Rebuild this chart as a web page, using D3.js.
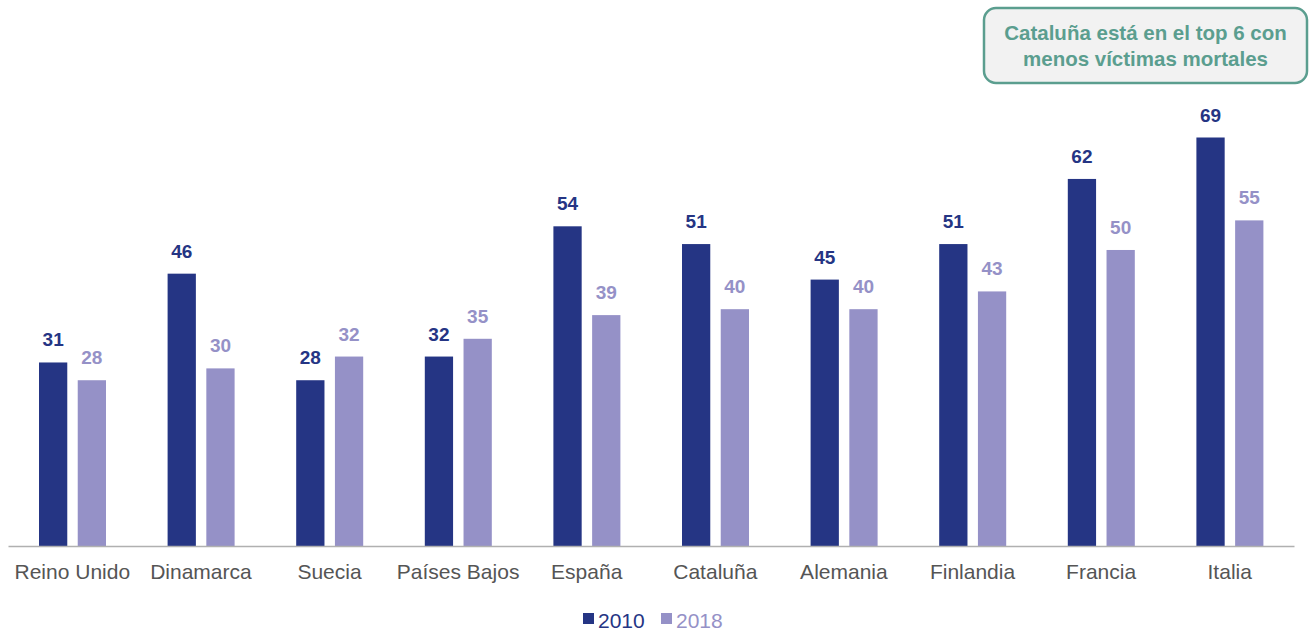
<!DOCTYPE html>
<html>
<head>
<meta charset="utf-8">
<script src="https://d3js.org/d3.v7.min.js"></script>
<style>
  body { margin: 0; background: #fff; }
  svg { font-family: "Liberation Sans", Arial, sans-serif; }
</style>
</head>
<body>
<div id="chart"></div>
<script>
// data
const countries = ["Reino Unido", "Dinamarca", "Suecia", "Países Bajos", "España",
                   "Cataluña", "Alemania", "Finlandia", "Francia", "Italia"];
const years = ["2010", "2018"];
const values2010 = [31, 46, 28, 32, 54, 51, 45, 51, 62, 69];
const values2018 = [28, 30, 32, 35, 39, 40, 40, 43, 50, 55];
const note = ["Cataluña está en el top 6 con", "menos víctimas mortales"];

const width = 1310, height = 632;
const colors = {"2010": "#253584", "2018": "#9591c7"};
const baseY = 546;

const svg = d3.select("#chart").append("svg")
    .attr("width", width)
    .attr("height", height);

const x = d3.scaleBand()
    .domain(countries)
    .range([8, 1294])
    .paddingInner(0)
    .paddingOuter(0);

const xSub = d3.scaleBand()
    .domain(years)
    .range([31, 98])
    .paddingInner(0.27);

const y = d3.scaleLinear()
    .domain([0, 69])
    .range([baseY, 137.5]);

const rows = countries.map((c, i) => ({country: c, "2010": values2010[i], "2018": values2018[i]}));

const groups = svg.selectAll("g.grp")
    .data(rows)
    .enter().append("g")
    .attr("class", "grp")
    .attr("transform", d => "translate(" + x(d.country) + ",0)");

groups.selectAll("rect")
    .data(d => years.map(k => ({key: k, value: d[k]})))
    .enter().append("rect")
    .attr("x", d => xSub(d.key))
    .attr("y", d => y(d.value))
    .attr("width", xSub.bandwidth())
    .attr("height", d => baseY - y(d.value))
    .attr("fill", d => colors[d.key]);

groups.selectAll("text.val")
    .data(d => years.map(k => ({key: k, value: d[k]})))
    .enter().append("text")
    .attr("class", "val")
    .attr("x", d => xSub(d.key) + xSub.bandwidth() / 2)
    .attr("y", d => y(d.value) - 16)
    .attr("text-anchor", "middle")
    .attr("font-size", 19)
    .attr("font-weight", "bold")
    .attr("fill", d => colors[d.key])
    .text(d => d.value);

// x axis
const xAxis = d3.axisBottom(x).tickSize(0).tickPadding(18);
const gx = svg.append("g")
    .attr("transform", "translate(0," + baseY + ")")
    .call(xAxis);
gx.select(".domain").attr("stroke", "#b0b0b0").attr("stroke-width", 1.5);
gx.selectAll("text")
    .attr("font-size", 21)
    .attr("fill", "#555")
    .attr("font-family", "Liberation Sans, Arial, sans-serif");

// legend
const legend = svg.append("g").attr("transform", "translate(583,613)");
years.forEach((k, i) => {
  const lg = legend.append("g").attr("transform", "translate(" + (i * 78) + ",0)");
  lg.append("rect")
    .attr("x", 0).attr("y", 0)
    .attr("width", 11).attr("height", 11)
    .attr("fill", colors[k]);
  lg.append("text")
    .attr("x", 15).attr("y", 15)
    .attr("font-size", 21)
    .attr("fill", colors[k])
    .text(k);
});

// annotation box
const box = svg.append("g").attr("transform", "translate(984,8)");
box.append("rect")
    .attr("width", 323).attr("height", 75)
    .attr("rx", 12).attr("ry", 12)
    .attr("fill", "#f2f2f2")
    .attr("stroke", "#5b9e8f")
    .attr("stroke-width", 2.5);
note.forEach((line, i) => {
  box.append("text")
    .attr("x", 161.5)
    .attr("y", 32 + i * 26)
    .attr("text-anchor", "middle")
    .attr("font-size", 20.5)
    .attr("font-weight", "bold")
    .attr("fill", "#5b9e8f")
    .text(line);
});
</script>
</body>
</html>
